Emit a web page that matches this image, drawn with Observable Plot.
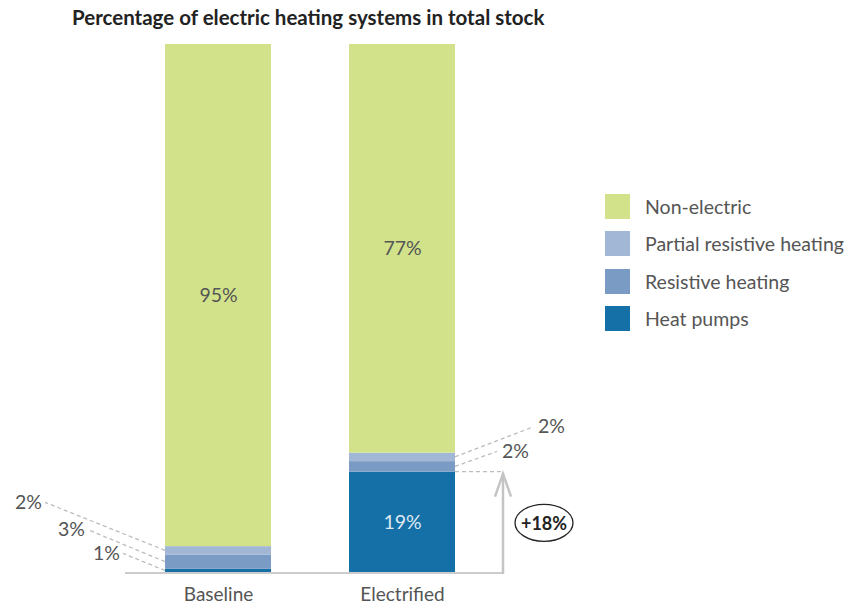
<!DOCTYPE html>
<html><head><meta charset="utf-8">
<script src="https://cdn.jsdelivr.net/npm/d3@7"></script>
<script src="https://cdn.jsdelivr.net/npm/@observablehq/plot@0.6"></script>
<style>
body{margin:0;background:#fff;font-family:Lato,"Source Sans Pro",sans-serif;}
#wrap{position:relative;width:859px;height:607px;overflow:hidden;}
#title{height:36px;line-height:34px;padding-left:72px;font-weight:700;font-size:20.5px;color:#222;white-space:nowrap;}
#chart svg{display:block;}
#legend{position:absolute;left:605px;top:194px;}
.item{display:flex;align-items:center;height:25px;margin-bottom:12.3px;font-size:19.5px;color:#555;white-space:nowrap;}
.sw{width:25px;height:25px;margin-right:15px;flex:none;}
</style></head><body>
<div id="wrap"><div id="title">Percentage of electric heating systems in total stock</div><div id="chart"></div><div id="legend"></div></div>
<script>
// ---- data ----
const categories = ["Baseline", "Electrified"];
const types = ["Heat pumps", "Resistive heating", "Partial resistive heating", "Non-electric"];
const baselineValues = [0.6, 2.7, 1.6, 95.1];
const electrifiedValues = [19.0, 2.0, 1.6, 77.4];
const series = [baselineValues, electrifiedValues];
const legendOrder = ["Non-electric", "Partial resistive heating", "Resistive heating", "Heat pumps"];

const palette = ["#1570a8", "#7a9cc4", "#a2b6d6", "#d1e28b"];
const fmt = v => Math.round(v) + "%";

const rows = [];
categories.forEach((c, i) => types.forEach((t, j) => rows.push({category: c, type: t, value: series[i][j]})));

const plot = Plot.plot({
  width: 859, height: 571,
  marginTop: 8, marginBottom: 35, marginLeft: 126, marginRight: 365,
  style: {fontFamily: "Lato, sans-serif", fontSize: "19px", color: "#555", background: "#fff", overflow: "visible"},
  x: {domain: categories, paddingInner: 0.424, paddingOuter: 0.212, label: null, tickSize: 0, tickPadding: 15},
  y: {domain: [0, 100], axis: null},
  color: {domain: types, range: palette},
  marks: [
    Plot.barY(rows, {x: "category", y: "value", fill: "type"}),
    Plot.text(rows, Plot.filter(d => d.value >= 10 && d.type !== "Heat pumps",
      Plot.stackY({x: "category", y: "value", z: "type", text: d => fmt(d.value), fill: "#555", fontSize: 19.5}))),
    Plot.text(rows, Plot.filter(d => d.value >= 10 && d.type === "Heat pumps",
      Plot.stackY({x: "category", y: "value", z: "type", text: d => fmt(d.value), fill: "#dfe9f2", fontSize: 19.5})))
  ]
});
document.getElementById("chart").appendChild(plot);

// ---- annotations via the plot's scales ----
const xs = plot.scale("x"), ys = plot.scale("y"), cs = plot.scale("color");
const bw = xs.bandwidth;
const X = c => xs.apply(c);
const Y = v => ys.apply(v);
function segMid(ci, ti) { const v = series[ci]; let s = 0; for (let j = 0; j < ti; j++) s += v[j]; return s + v[ti] / 2; }
function segTop(ci, ti) { const v = series[ci]; let s = 0; for (let j = 0; j <= ti; j++) s += v[j]; return s; }

const svg = d3.select(plot);
const g = svg.append("g");

// leader-line layout (pixel offsets of label ends)
const leaders = [
  {ci: 0, ti: 2, side: "left", dx: -120, dy: -48},
  {ci: 0, ti: 1, side: "left", dx: -77, dy: -32},
  {ci: 0, ti: 0, side: "left", dx: -42, dy: -17},
  {ci: 1, ti: 2, side: "right", dx: 78, dy: -30},
  {ci: 1, ti: 1, side: "right", dx: 42, dy: -15}
];
leaders.forEach(l => {
  const x0 = l.side === "left" ? X(categories[l.ci]) : X(categories[l.ci]) + bw;
  const y0 = Y(segMid(l.ci, l.ti));
  const x1 = x0 + l.dx, y1 = y0 + l.dy;
  g.append("line").attr("x1", x0).attr("y1", y0).attr("x2", x1).attr("y2", y1)
    .attr("stroke", "#bdbdbd").attr("stroke-width", 1.3).attr("stroke-dasharray", "4,3");
  g.append("text").attr("x", l.side === "left" ? x1 - 3 : x1 + 5).attr("y", y1 - 1)
    .attr("text-anchor", l.side === "left" ? "end" : "start").attr("dominant-baseline", "central")
    .attr("fill", "#555").attr("font-size", 19.5).text(fmt(series[l.ci][l.ti]));
});

// growth arrow
const hpTop = segTop(1, 0);
const ax = X("Electrified") + bw + 48;
g.append("line").attr("x1", X("Baseline") - 40).attr("x2", ax).attr("y1", Y(0) + 1).attr("y2", Y(0) + 1)
  .attr("stroke", "#cccccc").attr("stroke-width", 2.2);
g.append("line").attr("x1", X("Electrified") + bw).attr("x2", ax).attr("y1", Y(hpTop)).attr("y2", Y(hpTop))
  .attr("stroke", "#bdbdbd").attr("stroke-width", 1.3).attr("stroke-dasharray", "4,3");
g.append("line").attr("x1", ax).attr("x2", ax).attr("y1", Y(0) + 2).attr("y2", Y(hpTop) + 2)
  .attr("stroke", "#c4c4c4").attr("stroke-width", 2.5);
g.append("polyline").attr("points", `${ax - 8},${Y(hpTop) + 25} ${ax},${Y(hpTop) + 2} ${ax + 8},${Y(hpTop) + 25}`)
  .attr("fill", "none").attr("stroke", "#c4c4c4").attr("stroke-width", 2.5);
const diff = Math.round(electrifiedValues[0] - baselineValues[0]);
const ecy = Y(hpTop / 2) + 1;
g.append("ellipse").attr("cx", ax + 41).attr("cy", ecy).attr("rx", 29).attr("ry", 18.5)
  .attr("fill", "none").attr("stroke", "#222").attr("stroke-width", 1.3);
g.append("text").attr("x", ax + 41).attr("y", ecy).attr("text-anchor", "middle").attr("dominant-baseline", "central")
  .attr("font-weight", 700).attr("font-size", 18).attr("fill", "#222").text("+" + diff + "%");

// legend
const legend = d3.select("#legend");
legendOrder.forEach(t => {
  const it = legend.append("div").attr("class", "item");
  it.append("div").attr("class", "sw").style("background", cs.apply(t));
  it.append("span").text(t);
});
</script>
</body></html>
